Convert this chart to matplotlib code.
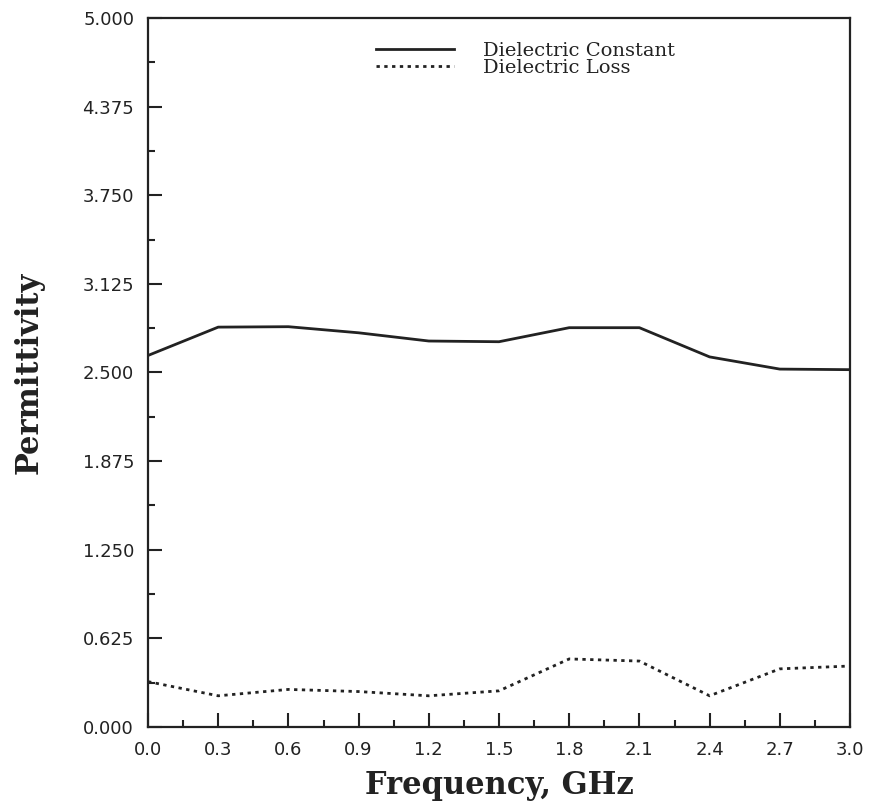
import matplotlib
matplotlib.use("Agg")
import matplotlib.pyplot as plt
from matplotlib.ticker import MultipleLocator

freq = [0.0, 0.3, 0.6, 0.9, 1.2, 1.5, 1.8, 2.1, 2.4, 2.7, 3.0]
dielectric_constant = [2.62, 2.82, 2.823, 2.78, 2.722, 2.717, 2.816, 2.816, 2.61, 2.524, 2.52]
dielectric_loss = [0.32, 0.22, 0.265, 0.25, 0.22, 0.255, 0.48, 0.465, 0.22, 0.41, 0.43]
yticks = [0.000, 0.625, 1.250, 1.875, 2.500, 3.125, 3.750, 4.375, 5.000]
xticks = [0.0, 0.3, 0.6, 0.9, 1.2, 1.5, 1.8, 2.1, 2.4, 2.7, 3.0]

fig = plt.figure(figsize=(8.73, 8.10), dpi=100)
ax = fig.add_axes([148/873, 1-727/810, 702/873, 709/810])

ax.plot(freq, dielectric_constant, color="#222222", lw=2.0, label="Dielectric Constant")
ax.plot(freq, dielectric_loss, color="#222222", lw=2.0, linestyle=(0, (1.2, 1.6)),
        label="Dielectric Loss")

ax.set_xlim(0, 3.0)
ax.set_ylim(0, 5.0)
ax.set_xticks(xticks)
ax.set_yticks(yticks)
ax.set_xticklabels([f"{v:.1f}" for v in xticks], fontfamily="DejaVu Sans", fontsize=13)
ax.set_yticklabels([f"{v:.3f}" for v in yticks], fontfamily="DejaVu Sans", fontsize=13)
ax.xaxis.set_minor_locator(MultipleLocator(0.15))
ax.yaxis.set_minor_locator(MultipleLocator(0.3125))
ax.tick_params(which="major", direction="in", length=10, width=1.5, color="#222222",
               labelcolor="#222222", pad=10)
ax.tick_params(which="minor", direction="in", length=5, width=1.5, color="#222222")
ax.tick_params(top=False, right=False, which="both")
for s in ax.spines.values():
    s.set_linewidth(1.6)
    s.set_color("#222222")

ax.set_xlabel("Frequency, GHz", fontfamily="DejaVu Serif", fontweight="bold",
              fontsize=22, color="#222222", labelpad=8)
ax.set_ylabel("Permittivity", fontfamily="DejaVu Serif", fontweight="bold",
              fontsize=22, color="#222222", labelpad=27)

leg = ax.legend(loc="upper left", bbox_to_anchor=((376-148)/702, 1-(42-18)/709),
                frameon=False, handlelength=4.0, handletextpad=1.5, labelspacing=-0.05,
                borderpad=0, borderaxespad=0,
                prop={"family": "DejaVu Serif", "size": 14})
for t in leg.get_texts():
    t.set_color("#222222")

fig.savefig("out.png", dpi=100)
